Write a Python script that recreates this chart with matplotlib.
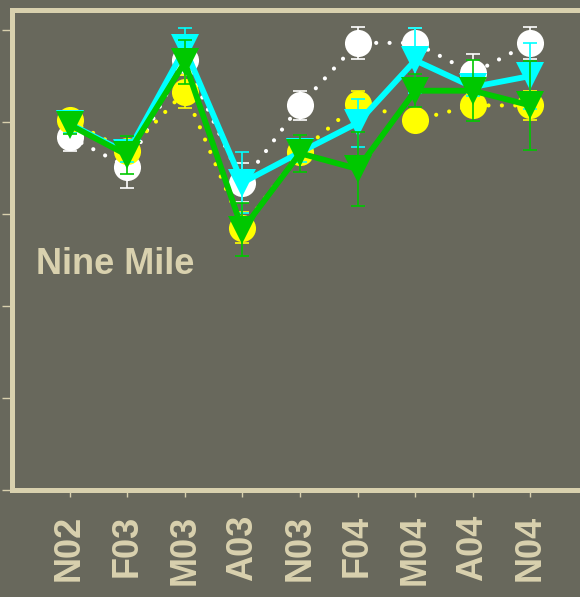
import matplotlib
matplotlib.use("Agg")
import matplotlib.pyplot as plt

plt.rcParams["font.family"] = ["Liberation Sans", "DejaVu Sans"]

BG = "#68685c"
INK = "#d9d1ae"

months = ["N02", "F03", "M03", "A03", "N03", "F04", "M04", "A04", "N04"]

white = [3.84, 3.51, 4.67, 3.34, 4.18, 4.86, 4.86, 4.53, 4.86]
white_err = [0.16, 0.23, 0.16, 0.21, 0.16, 0.17, 0.16, 0.21, 0.17]

yellow = [4.02, 3.68, 4.33, 2.85, 3.67, 4.20, 4.02, 4.18, 4.18]
yellow_err = [0.10, 0.10, 0.18, 0.17, 0.10, 0.14, 0.10, 0.10, 0.16]

cyan = [3.98, 3.66, 4.80, 3.34, 3.67, 3.99, 4.67, 4.38, 4.50]
cyan_err = [0.10, 0.10, 0.22, 0.33, 0.10, 0.26, 0.35, 0.10, 0.36]

green = [3.97, 3.64, 4.65, 2.83, 3.66, 3.49, 4.34, 4.34, 4.18]
green_err = [0.10, 0.21, 0.24, 0.29, 0.20, 0.40, 0.18, 0.33, 0.48]

x = list(range(len(months)))

fig = plt.figure(figsize=(5.8, 5.97), dpi=100, facecolor=BG)
ax = fig.add_axes([12 / 580, 107 / 597, 576 / 580, 480 / 597], facecolor=BG)

dots = (0, (0.01, 3.2))
series = [
    (white, white_err, "#ffffff", "o", dots),
    (yellow, yellow_err, "#ffff00", "o", dots),
    (cyan, cyan_err, "#00ffff", "v", "-"),
    (green, green_err, "#00c800", "v", "-"),
]
for i, (vals, err, col, mk, ls) in enumerate(series):
    z = 2 + i
    if mk == "o":
        ax.plot(x, vals, color=col, lw=3.0, ls=ls, dash_capstyle="round",
                marker=mk, ms=19.5, mew=0, zorder=z)
    else:
        ax.plot(x, vals, color=col, lw=4.2, ls=ls, solid_joinstyle="miter",
                marker=mk, ms=20, mew=0, zorder=z)
    ax.errorbar(x, vals, yerr=err, fmt="none", ecolor=col, elinewidth=1.2,
                capsize=4.7, capthick=1.2, zorder=z + 0.5)

ax.set_xlim(-1, 9)
ax.set_ylim(0, 480 / 92)
ax.set_yticks(range(6))
ax.set_yticklabels([])
ax.set_xticks(x)
ax.set_xticklabels(months, rotation=90, fontsize=26, fontweight="bold", color=INK)

for side in ("left", "bottom", "top"):
    ax.spines[side].set_color(INK)
    ax.spines[side].set_linewidth(3.6)
ax.spines["right"].set_visible(False)
ax.tick_params(axis="y", length=7, width=1, color=INK, direction="out")
ax.tick_params(axis="x", length=5, width=1, color=INK, direction="out", pad=13)

ax.text(24 / 576, (490 - 274) / 480, "Nine Mile", transform=ax.transAxes,
        fontsize=26, fontweight="bold", color=INK, va="baseline", ha="left")

fig.savefig("out.png", dpi=100, facecolor=BG)
